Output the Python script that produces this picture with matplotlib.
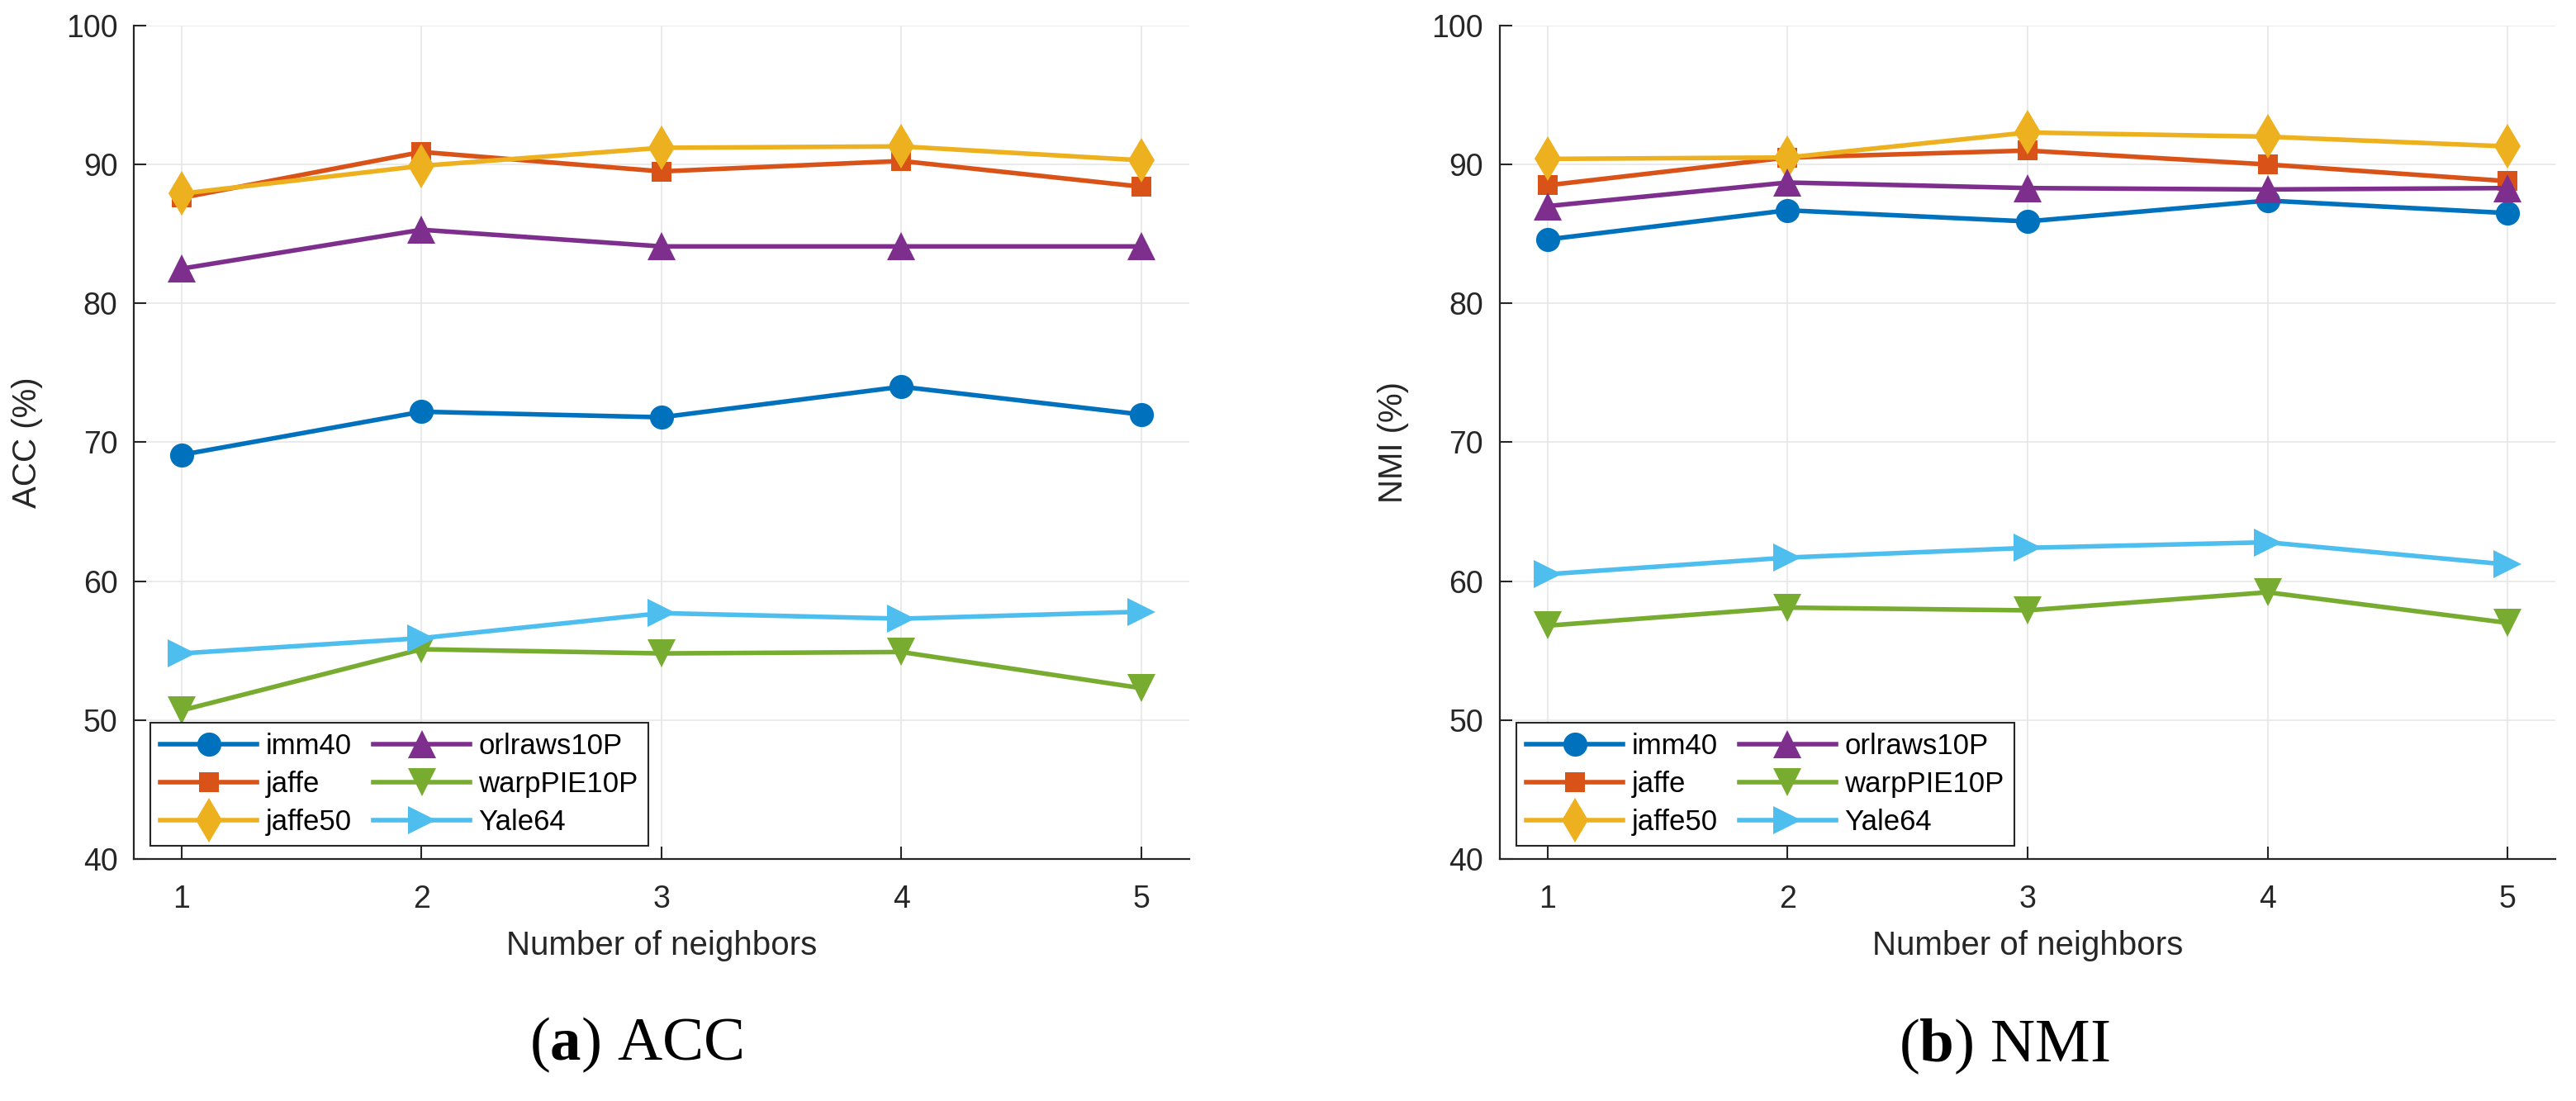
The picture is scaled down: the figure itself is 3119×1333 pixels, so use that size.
import matplotlib
matplotlib.use("Agg")
import matplotlib.pyplot as plt
import numpy as np

plt.rcParams['font.family'] = ['Liberation Sans', 'DejaVu Sans']
plt.rcParams['mathtext.fontset'] = 'custom'
plt.rcParams['mathtext.rm'] = 'Liberation Serif'
plt.rcParams['mathtext.bf'] = 'Liberation Serif:bold'

# data
neighbors = [1, 2, 3, 4, 5]
names = ['imm40', 'jaffe', 'jaffe50', 'orlraws10P', 'warpPIE10P', 'Yale64']

acc_imm40 = [69.1, 72.2, 71.8, 74.0, 72.0]
acc_jaffe = [87.6, 90.9, 89.5, 90.25, 88.4]
acc_jaffe50 = [87.9, 89.9, 91.2, 91.3, 90.3]
acc_orlraws10P = [82.5, 85.3, 84.1, 84.1, 84.1]
acc_warpPIE10P = [50.7, 55.1, 54.8, 54.9, 52.3]
acc_Yale64 = [54.8, 55.9, 57.7, 57.3, 57.8]

nmi_imm40 = [84.6, 86.7, 85.9, 87.4, 86.5]
nmi_jaffe = [88.5, 90.5, 91.0, 90.0, 88.8]
nmi_jaffe50 = [90.4, 90.5, 92.3, 92.0, 91.3]
nmi_orlraws10P = [87.0, 88.7, 88.3, 88.2, 88.3]
nmi_warpPIE10P = [56.8, 58.1, 57.9, 59.2, 57.0]
nmi_Yale64 = [60.5, 61.7, 62.4, 62.8, 61.2]

acc_data = [acc_imm40, acc_jaffe, acc_jaffe50, acc_orlraws10P, acc_warpPIE10P, acc_Yale64]
nmi_data = [nmi_imm40, nmi_jaffe, nmi_jaffe50, nmi_orlraws10P, nmi_warpPIE10P, nmi_Yale64]

colors = ['#0072BD', '#D95319', '#EDB120', '#7E2F8E', '#77AC30', '#4DBEEE']
markers = ['o', 's', 'd', '^', 'v', '>']
msizes = [21, 17, 27, 24, 24, 24]


def draw_panel(ax, data, ylabel):
    for vals, name, c, m, ms in zip(data, names, colors, markers, msizes):
        ax.plot(neighbors, vals, color=c, marker=m, markersize=ms, linewidth=4,
                markeredgewidth=0, label=name)

    ax.set_xlim(0.8, 5.2)
    ax.set_ylim(40, 100)
    ax.set_xticks(neighbors)
    ax.set_yticks([40, 50, 60, 70, 80, 90, 100])
    ax.grid(True, color='#e6e6e6', linewidth=1.2)
    ax.set_axisbelow(True)
    for s in ['top', 'right']:
        ax.spines[s].set_visible(False)
    for s in ['left', 'bottom']:
        ax.spines[s].set_color('#262626')
        ax.spines[s].set_linewidth(1.6)
    ax.tick_params(direction='in', length=11, width=1.5, color='#262626',
                   labelsize=27, labelcolor='#262626')
    ax.tick_params(axis='x', pad=22)
    ax.tick_params(axis='y', pad=14)

    ax.set_xlabel('Number of neighbors', fontsize=29, color='#262626', labelpad=14)
    ax.set_ylabel(ylabel, fontsize=29, color='#262626', labelpad=20)

    leg = ax.legend(ncol=2, loc='lower left', bbox_to_anchor=(0.016, 0.016),
                    borderaxespad=0, fontsize=25, fancybox=False, framealpha=1,
                    handlelength=3.37, handletextpad=0.3, columnspacing=0.75,
                    labelspacing=0.37, borderpad=0.35)
    leg.get_frame().set_edgecolor('#262626')
    leg.get_frame().set_linewidth(1.5)


fig = plt.figure(figsize=(31.19, 13.33), dpi=100)
ax1 = fig.add_axes([0.0519, 0.2198, 0.4098, 0.757])
ax2 = fig.add_axes([0.5821, 0.2198, 0.4100, 0.757])

draw_panel(ax1, acc_data, 'ACC (%)')
draw_panel(ax2, nmi_data, 'NMI (%)')

fig.text(0.247, 0.051, r'$(\mathbf{a})$ ACC', fontsize=54, ha='center', va='center',
         family='Liberation Serif')
fig.text(0.778, 0.049, r'$(\mathbf{b})$ NMI', fontsize=54, ha='center', va='center',
         family='Liberation Serif')

fig.savefig('out.png', dpi=100, facecolor='white')
